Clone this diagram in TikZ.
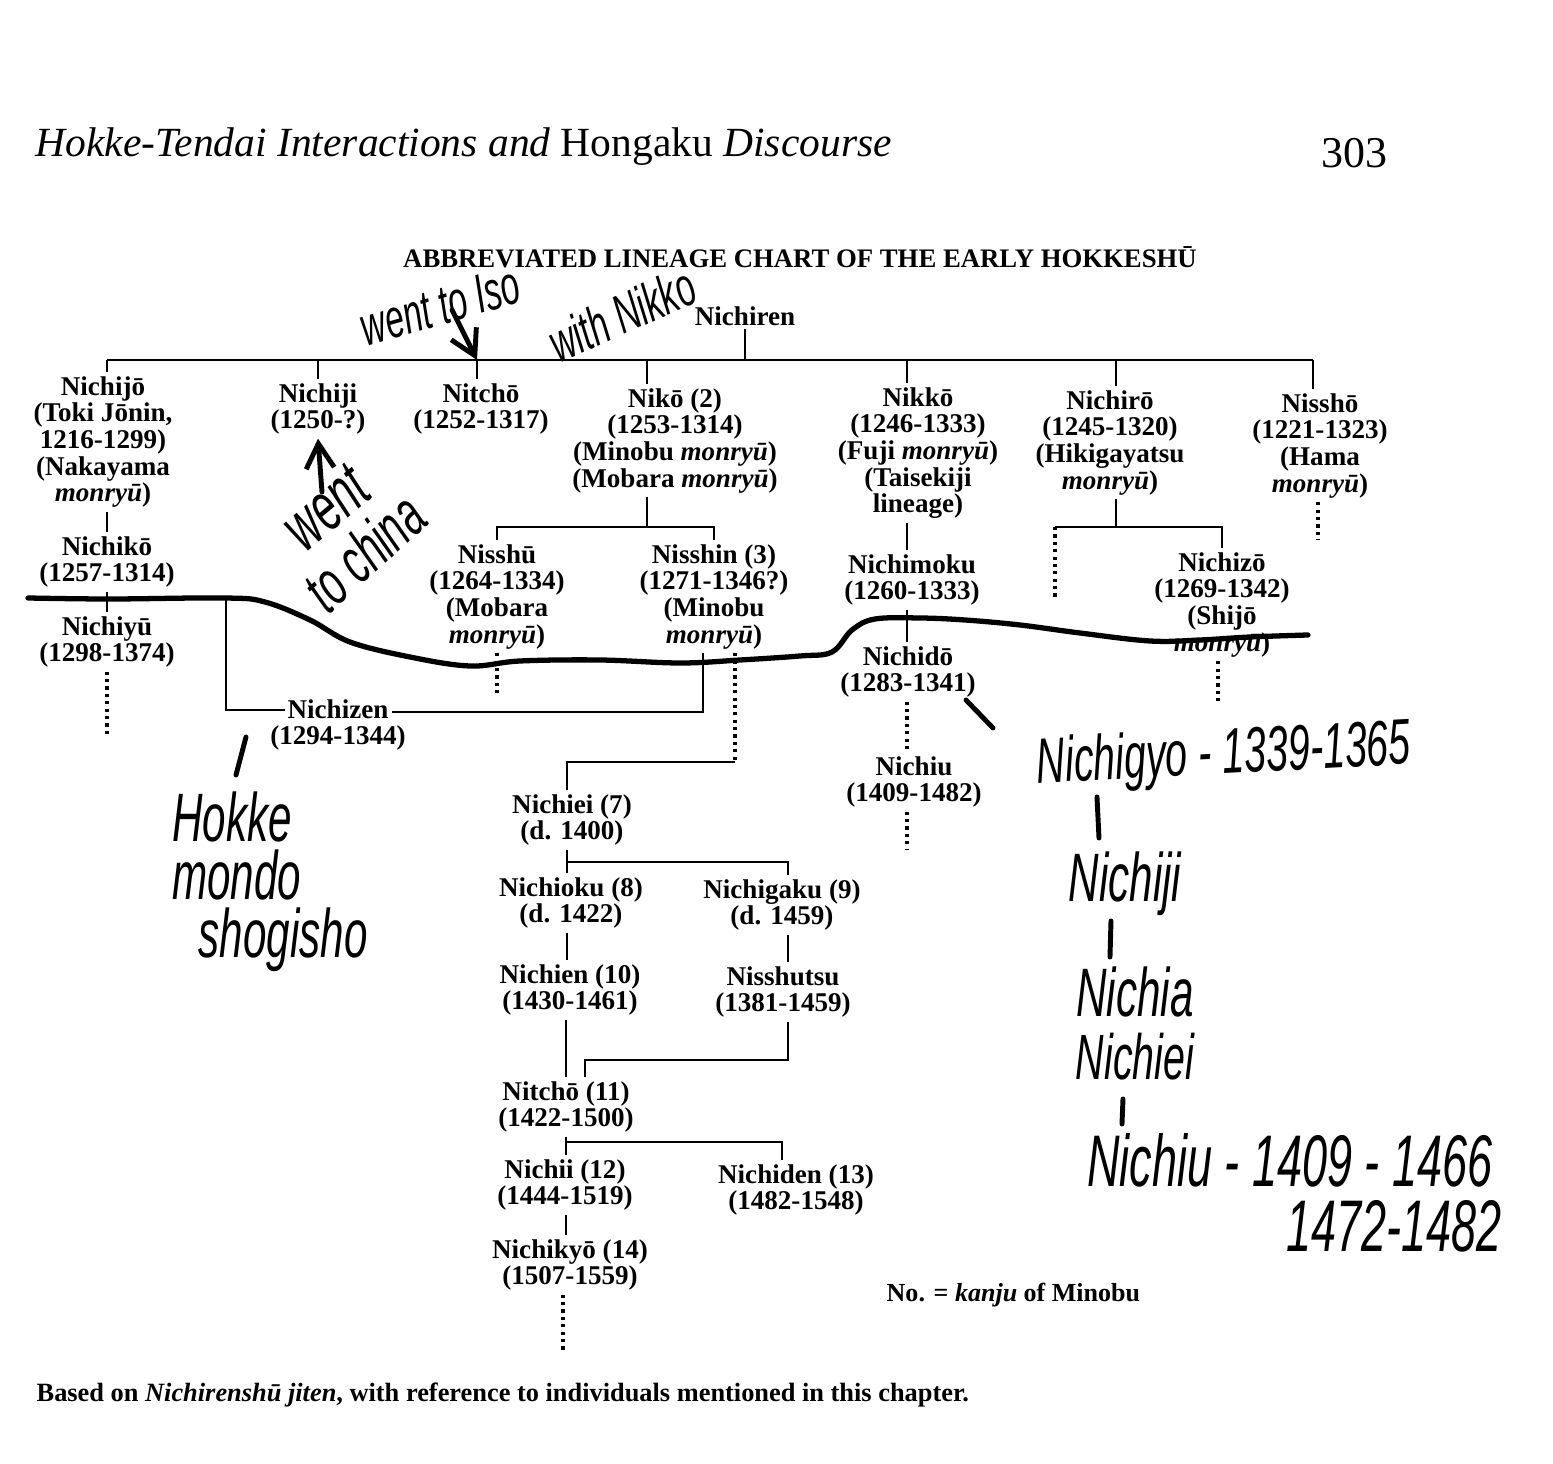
\documentclass[tikz,border=0pt]{standalone}
\usepackage{graphicx}
\usepackage{fontspec}
\setmainfont{Liberation Serif}
\newfontfamily\handfont{Liberation Sans}
\usetikzlibrary{arrows.meta}
\newcommand\scrawl[1]{\scalebox{0.8}[1.3]{#1}}

\begin{document}
\begin{tikzpicture}[x=0.01cm, y=-0.01cm,
    monk/.style={align=center, anchor=north, inner sep=1pt, font=\fontsize{7.7}{7.6}\selectfont\bfseries},
    link/.style={line width=0.6pt},
    dots/.style={line width=0.9pt, dash pattern=on 0.9pt off 1.2pt},
    note/.style={inner sep=0pt, font=\handfont\itshape\fontsize{#1}{#1}\selectfont},
    pen/.style={line width=1.4pt, line cap=round},
    penarr/.style={pen, -{Straight Barb[length=7pt, width=8pt]}}
]
    \useasboundingbox (0,0) rectangle (1553,1464);

    \node[anchor=base west, inner sep=0pt, font=\fontsize{11.8}{14}\selectfont] (head) at (35,157) {\textit{Hokke-Tendai Interactions and} Hongaku \textit{Discourse}};
    \node[anchor=base east, inner sep=0pt, font=\fontsize{12.5}{14}\selectfont] (page) at (1388,168) {303};
    \node[anchor=base, inner sep=0pt, font=\fontsize{7.6}{9}\selectfont\bfseries] (title) at (800,268) {ABBREVIATED LINEAGE CHART OF THE EARLY HOKKESHŪ};

    \node[monk] (nichiren) at (745,302) {Nichiren};
    \node[monk] (nichijo) at (103,372) {Nichijō\\(Toki Jōnin,\\1216-1299)\\(Nakayama\\\textit{monryū})};
    \node[monk] (nichiji) at (318,379) {Nichiji\\(1250-?)};
    \node[monk] (nitcho) at (481,379) {Nitchō\\(1252-1317)};
    \node[monk] (niko) at (675,384) {Nikō (2)\\(1253-1314)\\(Minobu \textit{monryū})\\(Mobara \textit{monryū})};
    \node[monk] (nikko) at (918,383) {Nikkō\\(1246-1333)\\(Fuji \textit{monryū})\\(Taisekiji\\lineage)};
    \node[monk] (nichiro) at (1110,386) {Nichirō\\(1245-1320)\\(Hikigayatsu\\\textit{monryū})};
    \node[monk] (nissho) at (1320,389) {Nisshō\\(1221-1323)\\(Hama\\\textit{monryū})};
    \node[monk] (nichiko) at (107,532) {Nichikō\\(1257-1314)};
    \node[monk] (nichiyu) at (107,612) {Nichiyū\\(1298-1374)};
    \node[monk] (nisshu) at (497,540) {Nisshū\\(1264-1334)\\(Mobara\\\textit{monryū})};
    \node[monk] (nisshin) at (714,540) {Nisshin (3)\\(1271-1346?)\\(Minobu\\\textit{monryū})};
    \node[monk] (nichimoku) at (912,550) {Nichimoku\\(1260-1333)};
    \node[monk] (nichizo) at (1222,548) {Nichizō\\(1269-1342)\\(Shijō\\\textit{monryū})};
    \node[monk] (nichido) at (908,642) {Nichidō\\(1283-1341)};
    \node[monk] (nichizen) at (338,695) {Nichizen\\(1294-1344)};
    \node[monk] (nichiu) at (914,752) {Nichiu\\(1409-1482)};
    \node[monk] (nichiei) at (572,790) {Nichiei (7)\\(d. 1400)};
    \node[monk] (nichioku) at (571,873) {Nichioku (8)\\(d. 1422)};
    \node[monk] (nichigaku) at (782,875) {Nichigaku (9)\\(d. 1459)};
    \node[monk] (nichien) at (570,960) {Nichien (10)\\(1430-1461)};
    \node[monk] (nisshutsu) at (783,962) {Nisshutsu\\(1381-1459)};
    \node[monk] (nitchoB) at (566,1077) {Nitchō (11)\\(1422-1500)};
    \node[monk] (nichii) at (565,1155) {Nichii (12)\\(1444-1519)};
    \node[monk] (nichiden) at (796,1160) {Nichiden (13)\\(1482-1548)};
    \node[monk] (nichikyo) at (570,1235) {Nichikyō (14)\\(1507-1559)};

    \node[anchor=base west, inner sep=0pt, font=\fontsize{7.4}{9}\selectfont\bfseries] (key) at (886,1302) {No. = \textit{kanju} of Minobu};
    \node[anchor=base west, inner sep=0pt, font=\fontsize{7.5}{9}\selectfont\bfseries] (source) at (36,1402) {Based on \textit{Nichirenshū jiten}, with reference to individuals mentioned in this chapter.};

    \coordinate (dNichijo) at (107,360);
    \coordinate (dNichiji) at (318,360);
    \coordinate (dNitcho) at (477,360);
    \coordinate (dNiko) at (647,360);
    \coordinate (dNikko) at (907,360);
    \coordinate (dNichiro) at (1116,360);
    \coordinate (dNissho) at (1313,360);
    \coordinate (nikoJ) at (647,527);
    \coordinate (nichiroJ) at (1116,527);
    \coordinate (nichiroL) at (1055,600);
    \coordinate (nichikoJ) at (107,598);
    \coordinate (zenL) at (226,710);
    \coordinate (zenA) at (285,710);
    \coordinate (zenB) at (392,712);
    \coordinate (zenR) at (703,712);
    \coordinate (minobuJ) at (735,762);
    \coordinate (eiJ) at (567,862);
    \coordinate (gakuJ) at (788,862);
    \coordinate (shutsuJ) at (585,1060);
    \coordinate (choJ) at (566,1142);
    \coordinate (denJ) at (782,1142);
    \coordinate (nichiyuEnd) at (107,735);
    \coordinate (nisshuEnd) at (497,695);
    \coordinate (nisshoEnd) at (1318,540);
    \coordinate (nichizoEnd) at (1218,705);
    \coordinate (nichiuEnd) at (907,850);
    \coordinate (nichikyoEnd) at (563,1350);

    \draw[link] (nichiren) -- (nichiren |- dNichijo);
    \draw[link] (dNichijo) -- (dNissho);
    \foreach \d/\n in {dNichijo/nichijo, dNichiji/nichiji, dNitcho/nitcho, dNiko/niko, dNikko/nikko, dNichiro/nichiro, dNissho/nissho}
        \draw[link] (\d) -- (\d |- \n.north);
    \draw[link] (nichijo.south -| dNichijo) -- (nichiko.north -| dNichijo);
    \draw[link] (nichiko.south -| dNichijo) -- (nichiyu.north -| dNichijo);
    \draw[dots] (nichiyu.south -| dNichijo) -- (nichiyuEnd);
    \draw[link] (nichikoJ) -| (zenL) -- (zenA);
    \draw[link] (zenB) -- (zenR) -- (zenR |- nisshin.south);
    \draw[link] (niko.south -| nikoJ) -- (nikoJ);
    \draw[link] (nisshu.north) |- (nikoJ) -| (nisshin.north);
    \draw[dots] (nisshu.south) -- (nisshuEnd);
    \draw[dots] (nisshin.south -| minobuJ) -- (minobuJ);
    \draw[link] (minobuJ) -| (nichiei.north -| eiJ);
    \draw[link] (nichiei.south -| eiJ) -- (nichioku.north -| eiJ);
    \draw[link] (eiJ) -- (gakuJ) -- (gakuJ |- nichigaku.north);
    \draw[link] (nichioku.south -| eiJ) -- (nichien.north -| eiJ);
    \draw[link] (nichigaku.south -| gakuJ) -- (nisshutsu.north -| gakuJ);
    \draw[link] (nichien.south -| choJ) -- (nitchoB.north -| choJ);
    \draw[link] (nisshutsu.south -| gakuJ) |- (shutsuJ) -- (shutsuJ |- nitchoB.north);
    \draw[link] (nitchoB.south -| choJ) -- (nichii.north -| choJ);
    \draw[link] (choJ) -- (denJ) -- (denJ |- nichiden.north);
    \draw[link] (nichii.south -| choJ) -- (nichikyo.north -| choJ);
    \draw[dots] (nichikyo.south -| nichikyoEnd) -- (nichikyoEnd);
    \draw[link] (nikko.south -| dNikko) -- (nichimoku.north -| dNikko);
    \draw[link] (nichimoku.south -| dNikko) -- (nichido.north -| dNikko);
    \draw[dots] (nichido.south -| dNikko) -- (nichiu.north -| dNikko);
    \draw[dots] (nichiu.south -| dNikko) -- (nichiuEnd);
    \draw[link] (nichiro.south -| nichiroJ) -- (nichiroJ);
    \draw[link] (nichiroJ -| nichiroL) -- (nichiroJ -| nichizo.north) -- (nichizo.north);
    \draw[dots] (nichiroJ -| nichiroL) -- (nichiroL);
    \draw[dots] (nissho.south -| nisshoEnd) -- (nisshoEnd);
    \draw[dots] (nichizo.south -| nichizoEnd) -- (nichizoEnd);

    \draw[pen, line width=1.5pt] plot[smooth, tension=0.6] coordinates {(28,598) (110,599) (225,598) (265,602) (310,620) (350,642) (410,657) (470,666) (520,661) (600,660) (680,663) (740,660) (800,656) (832,652) (852,630) (875,619) (920,618) (965,620) (1020,625) (1080,633) (1150,641) (1200,640) (1250,637) (1308,635)};

    \node[note=12, rotate=16] (wentIso) at (440,306) {\scrawl{went to Iso}};
    \node[note=12, rotate=24] (withNikko) at (622,314) {\scrawl{with Nikko}};
    \coordinate (isoTail) at (452,310);
    \draw[penarr] (isoTail) -- (dNitcho);
    \node[note=15, rotate=40] (went) at (326,508) {\scrawl{went}};
    \node[note=14, rotate=42] (toChina) at (364,552) {\scrawl{to china}};
    \coordinate (chinaTail) at (322,492);
    \draw[penarr] (chinaTail) -- (nichiji.south);
    \node[inner sep=0pt, align=left, font=\handfont\itshape\fontsize{15}{16.5}\selectfont] (hokke) at (270,882) {\scrawl{Hokke}\\\scrawl{mondo}\\\hspace{0.5em}\scrawl{shogisho}};
    \node[note=14, rotate=3] (nichigyo) at (1224,757) {\scrawl{Nichigyo - 1339-1365}};
    \node[note=15] (nichijiH) at (1125,884) {\scrawl{Nichiji}};
    \node[note=15] (nichiaH) at (1135,992) {\scrawl{Nichia}};
    \node[note=14] (nichieiH) at (1135,1057) {\scrawl{Nichiei}};
    \node[note=16] (nichiuH) at (1290,1160) {\scrawl{Nichiu - 1409 - 1466}};
    \node[note=16] (datesH) at (1394,1226) {\scrawl{1472-1482}};
    \coordinate (zenMarkA) at (246,737);
    \coordinate (zenMarkB) at (236,775);
    \coordinate (doMarkA) at (966,700);
    \coordinate (doMarkB) at (993,728);
    \coordinate (gyoMarkA) at (1097,797);
    \coordinate (gyoMarkB) at (1099,838);
    \coordinate (jiMarkA) at (1111,921);
    \coordinate (jiMarkB) at (1110,957);
    \coordinate (eiMarkA) at (1123,1099);
    \coordinate (eiMarkB) at (1122,1124);
    \foreach \a/\b in {zenMarkA/zenMarkB, doMarkA/doMarkB, gyoMarkA/gyoMarkB, jiMarkA/jiMarkB, eiMarkA/eiMarkB}
        \draw[pen] (\a) -- (\b);
\end{tikzpicture}
\end{document}
